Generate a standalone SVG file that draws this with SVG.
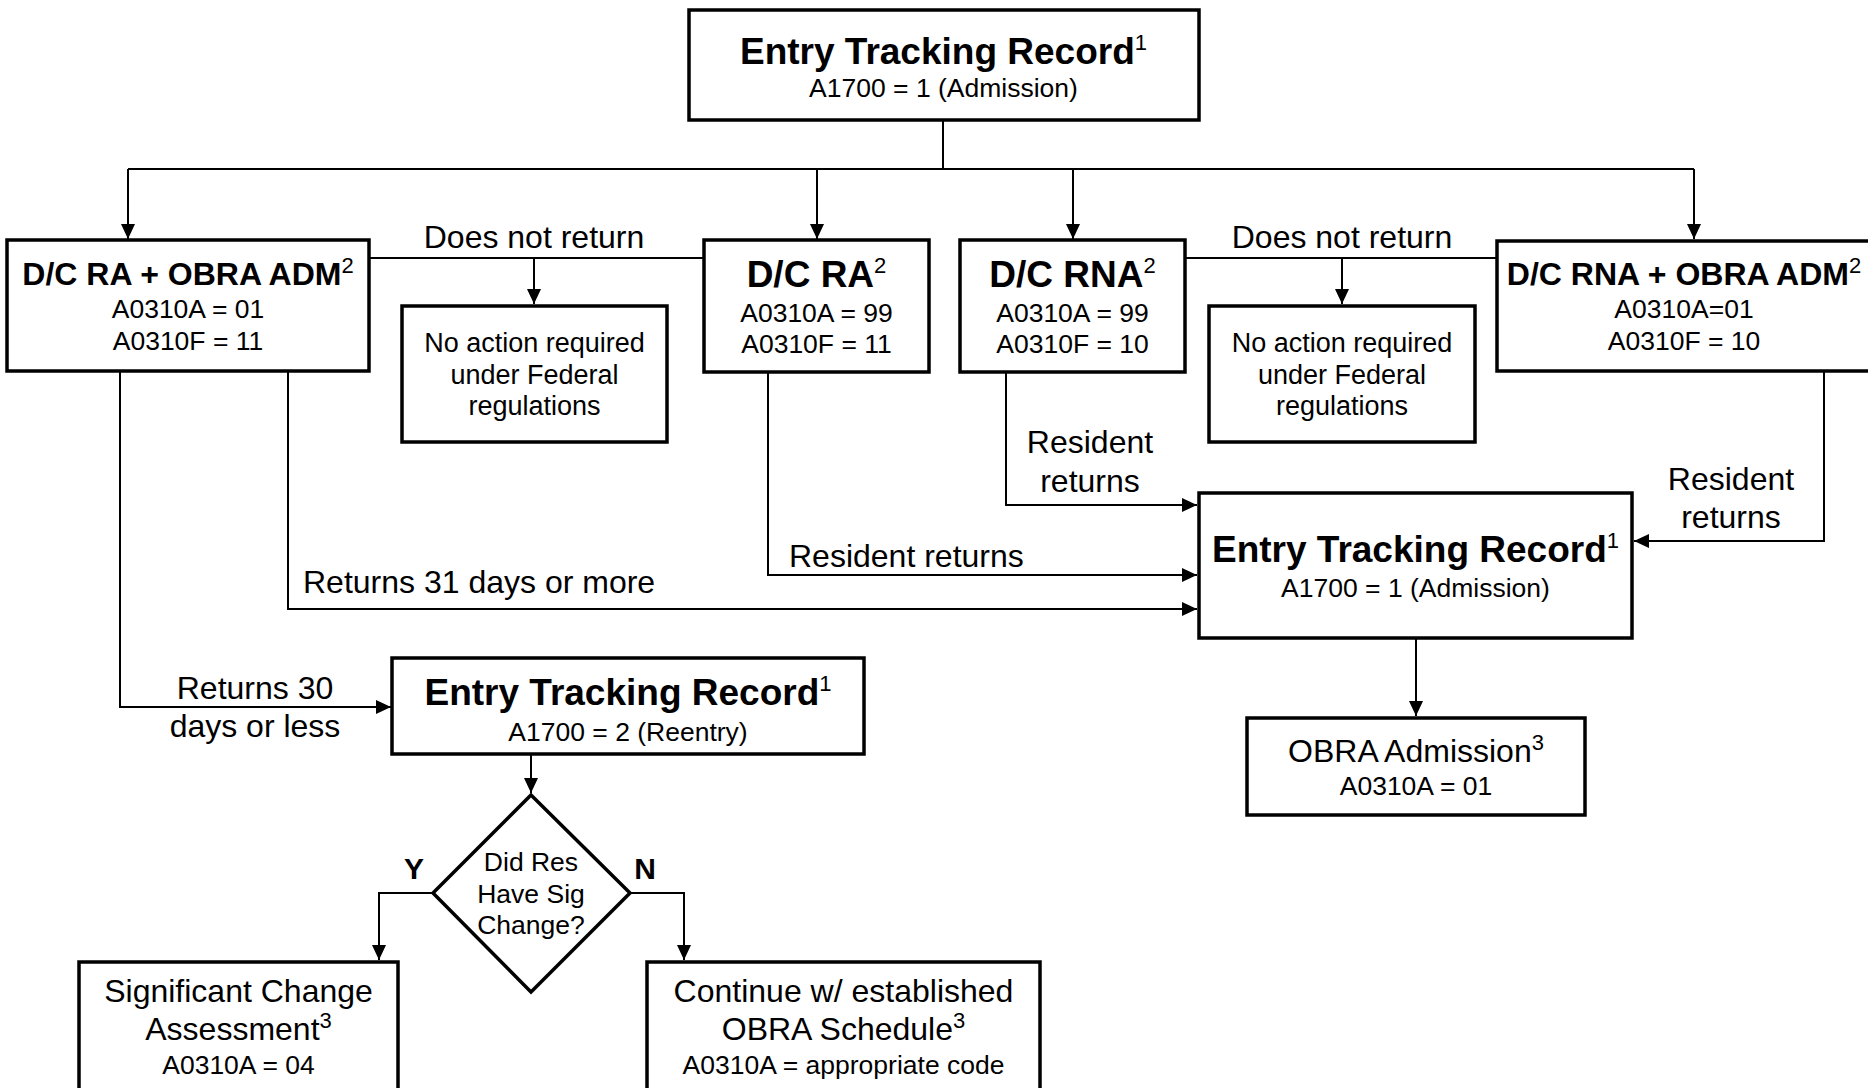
<svg xmlns="http://www.w3.org/2000/svg" width="1868" height="1088" viewBox="0 0 1868 1088">
<style>
.box{fill:#fff;stroke:#000;stroke-width:3.5}
.c{fill:none;stroke:#000;stroke-width:2}
text{font-family:"Liberation Sans",Arimo,Arial,sans-serif;fill:#000}
.t37{font-size:37px;font-weight:bold;text-anchor:middle}
.t36{font-size:37px;font-weight:bold;text-anchor:middle}
.t31b{font-size:32px;font-weight:bold;text-anchor:middle}
.r26{font-size:26.5px;text-anchor:middle}
.na{font-size:27px;text-anchor:middle}
.r31{font-size:32px;text-anchor:middle}
.lbl{font-size:32px}
.sup{font-size:22px;font-weight:normal}
</style>
<defs>
<marker id="ah" markerUnits="userSpaceOnUse" markerWidth="15" markerHeight="14" refX="15" refY="7" orient="auto">
<path d="M0,0 L15,7 L0,14 z" fill="#000"/>
</marker>
</defs>

<g id="connectors">
<path class="c" d="M943,121 V169"/>
<path class="c" d="M128,169 H1694"/>
<path class="c" d="M128,169 V239" marker-end="url(#ah)"/>
<path class="c" d="M817,169 V239" marker-end="url(#ah)"/>
<path class="c" d="M1073,169 V239" marker-end="url(#ah)"/>
<path class="c" d="M1694,169 V239" marker-end="url(#ah)"/>
<path class="c" d="M369,258 H704"/>
<path class="c" d="M534,258 V304" marker-end="url(#ah)"/>
<path class="c" d="M1185,258 H1497"/>
<path class="c" d="M1342,258 V304" marker-end="url(#ah)"/>
<path class="c" d="M1006,372 V505 H1197" marker-end="url(#ah)"/>
<path class="c" d="M768,372 V575 H1197" marker-end="url(#ah)"/>
<path class="c" d="M288,371 V609 H1197" marker-end="url(#ah)"/>
<path class="c" d="M1824,371 V541 H1634" marker-end="url(#ah)"/>
<path class="c" d="M120,371 V707 H391" marker-end="url(#ah)"/>
<path class="c" d="M1416,638 V716" marker-end="url(#ah)"/>
<path class="c" d="M531,754 V793" marker-end="url(#ah)"/>
<path class="c" d="M433,893 H379 V960" marker-end="url(#ah)"/>
<path class="c" d="M630,893 H684 V960" marker-end="url(#ah)"/>
<text class="lbl" x="534" y="248" text-anchor="middle">Does not return</text>
<text class="lbl" x="1342" y="248" text-anchor="middle">Does not return</text>
<text class="lbl" x="1090" y="453" text-anchor="middle">Resident</text>
<text class="lbl" x="1090" y="492" text-anchor="middle">returns</text>
<text class="lbl" x="789" y="567">Resident returns</text>
<text class="lbl" x="303" y="593">Returns 31 days or more</text>
<text class="lbl" x="255" y="699" text-anchor="middle">Returns 30</text>
<text class="lbl" x="255" y="737" text-anchor="middle">days or less</text>
<text class="lbl" x="1731" y="490" text-anchor="middle">Resident</text>
<text class="lbl" x="1731" y="528" text-anchor="middle">returns</text>
<text x="414" y="879" style="font-size:30px;font-weight:bold" text-anchor="middle">Y</text>
<text x="645" y="879" style="font-size:30px;font-weight:bold" text-anchor="middle">N</text>
</g>

<g id="etr-top">
<rect class="box" x="689" y="10" width="510" height="110"/>
<text class="t37" x="943.5" y="64">Entry Tracking Record<tspan class="sup" dy="-14">1</tspan></text>
<text class="r26" x="943.5" y="97">A1700 = 1 (Admission)</text>
</g>

<g id="dc-ra-obra">
<rect class="box" x="7" y="240" width="362" height="131"/>
<text class="t31b" x="188" y="285">D/C RA + OBRA ADM<tspan class="sup" dy="-12">2</tspan></text>
<text class="r26" x="188" y="318">A0310A = 01</text>
<text class="r26" x="188" y="350">A0310F = 11</text>
</g>

<g id="no-action-1">
<rect class="box" x="402" y="306" width="265" height="136"/>
<text class="na" x="534.5" y="352">No action required</text>
<text class="na" x="534.5" y="384">under Federal</text>
<text class="na" x="534.5" y="415">regulations</text>
</g>

<g id="dc-ra">
<rect class="box" x="704" y="240" width="225" height="132"/>
<text class="t36" x="816.5" y="287">D/C RA<tspan class="sup" dy="-14">2</tspan></text>
<text class="r26" x="816.5" y="322">A0310A = 99</text>
<text class="r26" x="816.5" y="353">A0310F = 11</text>
</g>

<g id="dc-rna">
<rect class="box" x="960" y="240" width="225" height="132"/>
<text class="t36" x="1072.5" y="287">D/C RNA<tspan class="sup" dy="-14">2</tspan></text>
<text class="r26" x="1072.5" y="322">A0310A = 99</text>
<text class="r26" x="1072.5" y="353">A0310F = 10</text>
</g>

<g id="no-action-2">
<rect class="box" x="1209" y="306" width="266" height="136"/>
<text class="na" x="1342" y="352">No action required</text>
<text class="na" x="1342" y="384">under Federal</text>
<text class="na" x="1342" y="415">regulations</text>
</g>

<g id="dc-rna-obra">
<rect class="box" x="1497" y="241" width="380" height="130"/>
<text class="t31b" x="1684" y="285">D/C RNA + OBRA ADM<tspan class="sup" dy="-12">2</tspan></text>
<text class="r26" x="1684" y="318">A0310A=01</text>
<text class="r26" x="1684" y="350">A0310F = 10</text>
</g>

<g id="etr-admission">
<rect class="box" x="1199" y="493" width="433" height="145"/>
<text class="t37" x="1415.5" y="562">Entry Tracking Record<tspan class="sup" dy="-14">1</tspan></text>
<text class="r26" x="1415.5" y="597">A1700 = 1 (Admission)</text>
</g>

<g id="obra-admission">
<rect class="box" x="1247" y="718" width="338" height="97"/>
<text class="r31" x="1416" y="762">OBRA Admission<tspan class="sup" dy="-12">3</tspan></text>
<text class="r26" x="1416" y="795">A0310A = 01</text>
</g>

<g id="etr-reentry">
<rect class="box" x="392" y="658" width="472" height="96"/>
<text class="t37" x="628" y="705">Entry Tracking Record<tspan class="sup" dy="-14">1</tspan></text>
<text class="r26" x="628" y="741">A1700 = 2 (Reentry)</text>
</g>

<g id="decision">
<path class="box" d="M531,795 L630,893 L531,992 L433,893 Z"/>
<text class="r26" x="531" y="871">Did Res</text>
<text class="r26" x="531" y="903">Have Sig</text>
<text class="r26" x="531" y="934">Change?</text>
</g>

<g id="sig-change">
<rect class="box" x="79" y="962" width="319" height="140"/>
<text class="r31" x="238.5" y="1002">Significant Change</text>
<text class="r31" x="238.5" y="1040">Assessment<tspan class="sup" dy="-12">3</tspan></text>
<text class="r26" x="238.5" y="1074">A0310A = 04</text>
</g>

<g id="continue">
<rect class="box" x="647" y="962" width="393" height="140"/>
<text class="r31" x="843.5" y="1002">Continue w/ established</text>
<text class="r31" x="843.5" y="1040">OBRA Schedule<tspan class="sup" dy="-12">3</tspan></text>
<text class="r26" x="843.5" y="1074">A0310A = appropriate code</text>
</g>
</svg>
